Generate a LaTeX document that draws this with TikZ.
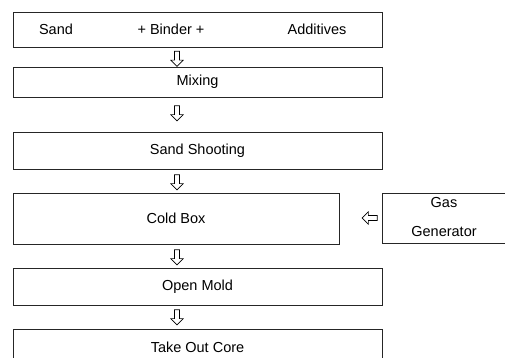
\documentclass[tikz,border=0pt]{standalone}
\usepackage{fontspec}
\setmainfont{Liberation Sans}
\usetikzlibrary{calc,positioning,shapes.arrows}

\tikzset{
  stepbox/.style={draw=black!85, line width=0.8pt, inner sep=0pt, minimum width=369pt},
  steptext/.style={font=\fontsize{14.5}{17}\selectfont},
  downarr/.style={single arrow, draw=black, fill=white, line width=0.7pt,
    minimum height=15pt, inner sep=2.2pt, single arrow head extend=3.6pt,
    shape border rotate=270},
  leftarr/.style={downarr, shape border rotate=180}
}

\begin{document}
\begin{tikzpicture}[x=1pt,y=-1pt]
	\useasboundingbox (0,0) rectangle (505,358);
	\clip (0,0) rectangle (505,358);
	% process boxes
	\node[stepbox, minimum height=35pt] (raw) at (197.5,29.5) {};
	\node[stepbox, steptext, minimum height=30pt] (mix) at (197.5,82) {Mixing};
	\node[stepbox, steptext, minimum height=37pt] (shoot) at (197.5,150.5) {Sand Shooting};
	\node[stepbox, steptext, minimum height=51pt, minimum width=326pt] (cold) at (176,218.5) {Cold Box};
	\node[stepbox, steptext, minimum height=37pt] (mold) at (197.5,286.5) {Open Mold};
	\node[stepbox, minimum height=42pt] (core) at (197.5,350) {};
	\node[steptext] (coretxt) at (197.5,347) {Take Out Core};
	\node[draw=black!85, line width=0.8pt, minimum width=128pt, minimum height=50pt] (gas) at (446,218) {};
	\node[steptext] (gas1) at (444,203) {Gas};
	\node[steptext] (gas2) at (444,232) {Generator};
	% texts of the first box
	\node[steptext] (sand) at (56,29.5) {Sand};
	\node[steptext] (binder) at (171,29.5) {+ Binder +};
	\node[steptext] (add) at (317,29.5) {Additives};
	% arrows
	\node[downarr] (a1) at (177,57.5) {};
	\node[downarr] (a2) at (177,112) {};
	\node[downarr] (a3) at (177,181) {};
	\node[downarr] (a4) at (177,256) {};
	\node[downarr] (a5) at (177,316) {};
	\node[leftarr] (a6) at (371,218) {};
\end{tikzpicture}
\end{document}
